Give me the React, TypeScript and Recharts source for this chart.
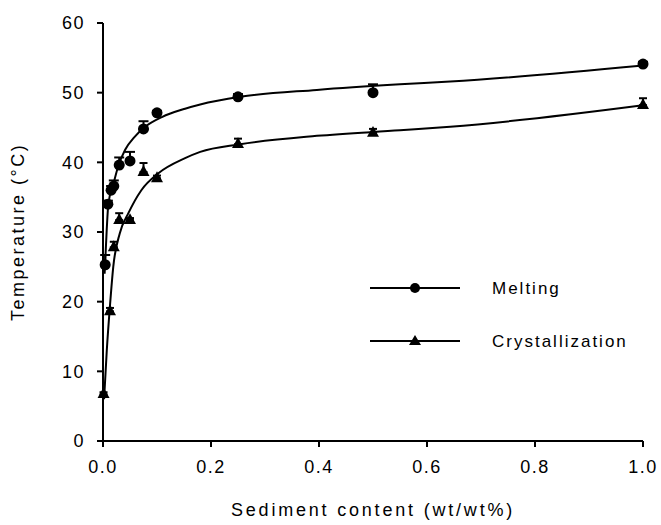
import React from 'react';
import { ComposedChart, Line, Scatter, ErrorBar, XAxis, YAxis, Label } from 'recharts';

// measured points (wt/wt% sediment, deg C, upper error)
const meltX = [0.004, 0.009, 0.015, 0.02, 0.03, 0.05, 0.075, 0.1, 0.25, 0.5, 1.0];
const meltT = [25.3, 34.0, 36.0, 36.6, 39.6, 40.2, 44.8, 47.1, 49.4, 50.0, 54.1];
const meltErr = [1.4, 0.5, 0.6, 0.8, 1.1, 1.3, 1.1, 0.3, 0.4, 1.2, 0.3];

const crysX = [0.001, 0.013, 0.02, 0.03, 0.05, 0.075, 0.1, 0.25, 0.5, 1.0];
const crysT = [6.7, 18.6, 27.8, 31.7, 31.7, 38.6, 37.7, 42.6, 44.2, 48.2];
const crysErr = [0.3, 0.5, 0.8, 1.0, 0.3, 1.3, 0.4, 0.8, 0.6, 1.0];

// fitted curves
const meltFitX = [0.003, 0.007, 0.01, 0.019, 0.028, 0.041, 0.059, 0.078, 0.109, 0.152, 0.18, 0.254, 0.396, 0.55, 0.643, 1.0];
const meltFitT = [24.0, 30.5, 34.1, 36.8, 39.4, 41.8, 43.7, 45.1, 46.5, 47.7, 48.3, 49.4, 50.4, 51.2, 51.6, 53.9];
const crysFitX = [0.002, 0.007, 0.013, 0.019, 0.031, 0.047, 0.071, 0.102, 0.152, 0.18, 0.254, 0.396, 0.55, 0.643, 1.0];
const crysFitT = [6.0, 13.0, 19.5, 25.0, 29.8, 32.7, 36.0, 38.4, 40.6, 41.5, 42.6, 43.8, 44.6, 45.1, 48.2];

const xTicks = [0, 0.2, 0.4, 0.6, 0.8, 1.0];
const yTicks = [0, 10, 20, 30, 40, 50, 60];

const meltData = meltX.map((x, i) => ({ x, y: meltT[i], err: [0, meltErr[i]] }));
const crysData = crysX.map((x, i) => ({ x, y: crysT[i], err: [0, crysErr[i]] }));
const meltFit = meltFitX.map((x, i) => ({ x, y: meltFitT[i] }));
const crysFit = crysFitX.map((x, i) => ({ x, y: crysFitT[i] }));

const FONT = '"Liberation Sans", Arial, sans-serif';

const Dot = (props: any) => {
  const { cx, cy } = props;
  if (cx == null || cy == null) return null;
  return <circle cx={cx} cy={cy} r={5.5} fill="#000" />;
};

const Tri = (props: any) => {
  const { cx, cy } = props;
  if (cx == null || cy == null) return null;
  return <path d={`M${cx},${cy - 7} L${cx + 6},${cy + 3.8} L${cx - 6},${cy + 3.8} Z`} fill="#000" />;
};

const Nothing = () => <g />;

const LegendBox = () => (
  <svg width={290} height={90} style={{ position: 'absolute', left: 370, top: 275, fontFamily: FONT }}>
    <line x1={0} y1={13} x2={90} y2={13} stroke="#000" strokeWidth={2} />
    <circle cx={45} cy={13} r={5} fill="#000" />
    <text x={122} y={19} fontSize={17} letterSpacing={2} fill="#000">Melting</text>
    <line x1={0} y1={66} x2={90} y2={66} stroke="#000" strokeWidth={2} />
    <path d="M45,60 L51,70 L39,70 Z" fill="#000" />
    <text x={122} y={72} fontSize={17} letterSpacing={2} fill="#000">Crystallization</text>
  </svg>
);

export default function App() {
  return (
    <div style={{ position: 'absolute', left: 0, top: 0, width: 661, height: 525, background: '#fff' }}>
      <ComposedChart width={661} height={525} margin={{ top: 23, right: 18, left: 43, bottom: 54 }}>
        <XAxis
          type="number"
          dataKey="x"
          domain={[0, 1]}
          ticks={xTicks}
          tickFormatter={(v: number) => v.toFixed(1)}
          height={30}
          stroke="#000"
          strokeWidth={2}
          tickSize={6}
          tickMargin={13}
          tick={{ fill: '#000', fontSize: 18, fontFamily: FONT, letterSpacing: 1.5 }}
        >
          <Label value="Sediment content (wt/wt%)" position="insideBottom" offset={-45} fill="#000" fontSize={18} fontFamily={FONT} letterSpacing={2.8} />
        </XAxis>
        <YAxis
          type="number"
          domain={[0, 60]}
          ticks={yTicks}
          width={60}
          stroke="#000"
          strokeWidth={2}
          tickSize={6}
          tickMargin={12}
          tick={{ fill: '#000', fontSize: 18, fontFamily: FONT, letterSpacing: 1.5 }}
        >
          <Label value="Temperature (°C)" angle={-90} position="insideLeft" offset={-25} style={{ textAnchor: 'middle' }} fill="#000" fontSize={18} fontFamily={FONT} letterSpacing={2.5} />
        </YAxis>
        <Line data={meltFit} dataKey="y" type="monotone" stroke="#000" strokeWidth={2} dot={false} isAnimationActive={false} legendType="none" />
        <Line data={crysFit} dataKey="y" type="monotone" stroke="#000" strokeWidth={2} dot={false} isAnimationActive={false} legendType="none" />
        {/* error bars first so the markers sit on top of the lower caps */}
        <Scatter data={meltData} dataKey="y" shape={<Nothing />} isAnimationActive={false}>
          <ErrorBar dataKey="err" direction="y" width={5} stroke="#000" strokeWidth={2} isAnimationActive={false} />
        </Scatter>
        <Scatter data={crysData} dataKey="y" shape={<Nothing />} isAnimationActive={false}>
          <ErrorBar dataKey="err" direction="y" width={4} stroke="#000" strokeWidth={2} isAnimationActive={false} />
        </Scatter>
        <Scatter data={meltData} dataKey="y" shape={<Dot />} isAnimationActive={false} />
        <Scatter data={crysData} dataKey="y" shape={<Tri />} isAnimationActive={false} />
      </ComposedChart>
      <LegendBox />
    </div>
  );
}
